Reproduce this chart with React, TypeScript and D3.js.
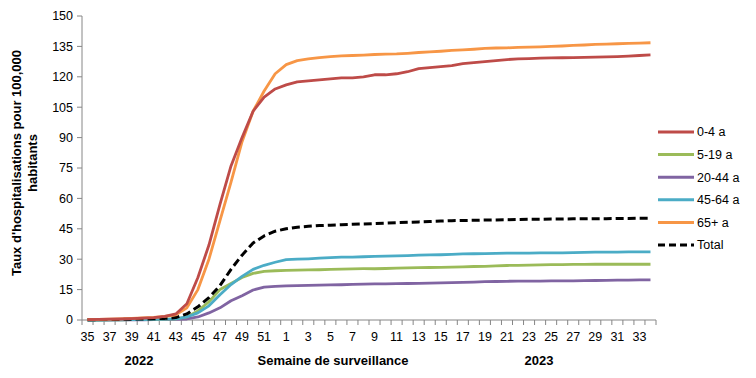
import React from "react";
import * as d3 from "d3";

const weeks: string[] = [
  "35","36","37","38","39","40","41","42","43","44","45","46","47","48","49","50","51","52",
  "1","2","3","4","5","6","7","8","9","10","11","12","13","14","15","16","17","18","19","20",
  "21","22","23","24","25","26","27","28","29","30","31","32","33","34",
];

const age0_4: number[] = [
  0.2,0.3,0.4,0.5,0.7,0.9,1.2,1.8,3,8,21,37,57,76,90,103,110,114,
  116,117.5,118,118.5,119,119.5,119.5,120,121,121,121.5,122.5,124,124.5,125,125.5,126.5,127,127.5,128,
  128.5,128.8,129,129.2,129.3,129.4,129.5,129.6,129.7,129.8,130,130.2,130.5,130.8,
];
const age5_19: number[] = [
  0,0,0.1,0.1,0.2,0.3,0.3,0.4,0.6,1.5,4.5,9,15,18,21,23,24,24.3,
  24.5,24.6,24.7,24.8,25,25.1,25.2,25.3,25.3,25.4,25.6,25.7,25.8,25.9,26,26.1,26.2,26.4,26.5,26.7,
  26.9,27,27.1,27.2,27.3,27.3,27.4,27.4,27.5,27.5,27.5,27.5,27.5,27.5,
];
const age20_44: number[] = [
  0,0,0,0.1,0.1,0.1,0.2,0.2,0.3,0.5,1.5,3.5,6,9.5,12,14.8,16.2,16.6,
  16.8,17,17.1,17.2,17.3,17.4,17.6,17.7,17.8,17.8,17.9,18,18.1,18.2,18.3,18.4,18.6,18.7,18.9,19,
  19.1,19.2,19.2,19.2,19.3,19.3,19.3,19.4,19.5,19.6,19.7,19.7,19.8,19.8,
];
const age45_64: number[] = [
  0,0,0.1,0.1,0.2,0.2,0.3,0.4,0.6,1.5,3.5,7,12.5,17.5,21.5,25,27,28.5,
  29.8,30,30.2,30.5,30.8,31,31,31.2,31.4,31.5,31.6,31.8,32,32.1,32.2,32.4,32.6,32.7,32.8,32.9,
  33,33,33,33.1,33.1,33.1,33.2,33.4,33.5,33.5,33.5,33.6,33.6,33.6,
];
const age65: number[] = [
  0.2,0.3,0.4,0.6,0.8,1,1.3,1.8,2.5,6,15,30,49,68,88,103,113,121.5,
  126,128,128.8,129.5,130,130.3,130.5,130.7,131,131.2,131.3,131.6,132,132.3,132.6,133,133.3,133.6,134,134.2,
  134.3,134.5,134.6,134.8,135,135.2,135.5,135.7,136,136.1,136.3,136.5,136.6,136.8,
];
const total: number[] = [
  0.1,0.2,0.2,0.3,0.4,0.5,0.6,0.8,1.2,3,6.5,11,17,25,32,38,41.5,43.8,
  45,45.8,46.2,46.6,46.8,47,47.2,47.4,47.6,47.8,48,48.2,48.4,48.6,48.8,49,49.1,49.2,49.3,49.4,
  49.5,49.6,49.7,49.7,49.8,49.8,49.9,49.9,50,50,50.1,50.1,50.2,50.2,
];

const yTicks: number[] = [0, 15, 30, 45, 60, 75, 90, 105, 120, 135, 150];

const seriesNames: string[] = ["0-4 a", "5-19 a", "20-44 a", "45-64 a", "65+ a", "Total"];
const seriesValues: number[][] = [age0_4, age5_19, age20_44, age45_64, age65, total];
const seriesColors: string[] = ["#BE4B48", "#9BBB59", "#8064A2", "#4BACC6", "#F79646", "#000000"];

const W = 756;
const H = 378;
const left = 82;
const right = 656;
const top = 16;
const bottom = 320;
const FONT = "'Liberation Sans', Arial, sans-serif";

export default function App() {
  const x = d3.scaleBand<string>().domain(weeks).range([left, right]).paddingInner(0).paddingOuter(0);
  const y = d3.scaleLinear().domain([0, 150]).range([bottom, top]);
  const xc = (i: number) => (x(weeks[i]) as number) + x.bandwidth() / 2;
  const line = d3
    .line<number>()
    .x((_, i) => xc(i))
    .y((d) => y(d))
    .curve(d3.curveLinear);

  const drawOrder = [2, 1, 3, 5, 4, 0];
  const bounds = weeks.map((w) => x(w) as number).concat([right]);

  return (
    <svg
      width={W}
      height={H}
      style={{ position: "absolute", left: 0, top: 0, background: "#fff" }}
      fontFamily={FONT}
    >
      {/* y axis */}
      <line x1={left} x2={left} y1={top} y2={bottom} stroke="#868686" strokeWidth={1} />
      {yTicks.map((t) => (
        <g key={t}>
          <line x1={left - 5} x2={left} y1={y(t)} y2={y(t)} stroke="#868686" />
          <text x={left - 9} y={y(t)} dy="0.35em" textAnchor="end" fontSize={12.5} fill="#000">
            {t}
          </text>
        </g>
      ))}
      {/* x axis */}
      <line x1={left} x2={right} y1={bottom} y2={bottom} stroke="#868686" />
      {bounds.map((b, i) => (
        <line key={i} x1={b} x2={b} y1={bottom} y2={bottom + 5} stroke="#868686" />
      ))}
      {weeks.map((w, i) =>
        i % 2 === 0 ? (
          <text key={w} x={xc(i)} y={bottom + 21} textAnchor="middle" fontSize={12.5} fill="#000">
            {w}
          </text>
        ) : null
      )}
      <text x={139} y={365} textAnchor="middle" fontSize={13} fontWeight="bold">2022</text>
      <text x={333} y={365} textAnchor="middle" fontSize={13} fontWeight="bold">Semaine de surveillance</text>
      <text x={539} y={365} textAnchor="middle" fontSize={13} fontWeight="bold">2023</text>
      {/* y title */}
      <g transform="translate(21,163) rotate(-90)">
        <text x={0} y={0} textAnchor="middle" fontSize={13} fontWeight="bold">
          Taux d'hospitalisations  pour 100,000
        </text>
        <text x={0} y={16} textAnchor="middle" fontSize={13} fontWeight="bold">
          habitants
        </text>
      </g>
      {/* lines */}
      {drawOrder.map((k) => (
        <path
          key={k}
          d={line(seriesValues[k]) || ""}
          fill="none"
          stroke={seriesColors[k]}
          strokeWidth={k === 5 ? 3 : 2.8}
          strokeDasharray={k === 5 ? "8,4" : undefined}
          strokeLinejoin="round"
        />
      ))}
      {/* legend */}
      {seriesNames.map((n, i) => {
        const ly = 132 + i * 22.6;
        return (
          <g key={n}>
            <line
              x1={658}
              x2={694}
              y1={ly}
              y2={ly}
              stroke={seriesColors[i]}
              strokeWidth={3}
              strokeDasharray={i === 5 ? "7,4" : undefined}
            />
            <text x={697} y={ly} dy="0.35em" fontSize={12.5} fill="#000">
              {n}
            </text>
          </g>
        );
      })}
    </svg>
  );
}
